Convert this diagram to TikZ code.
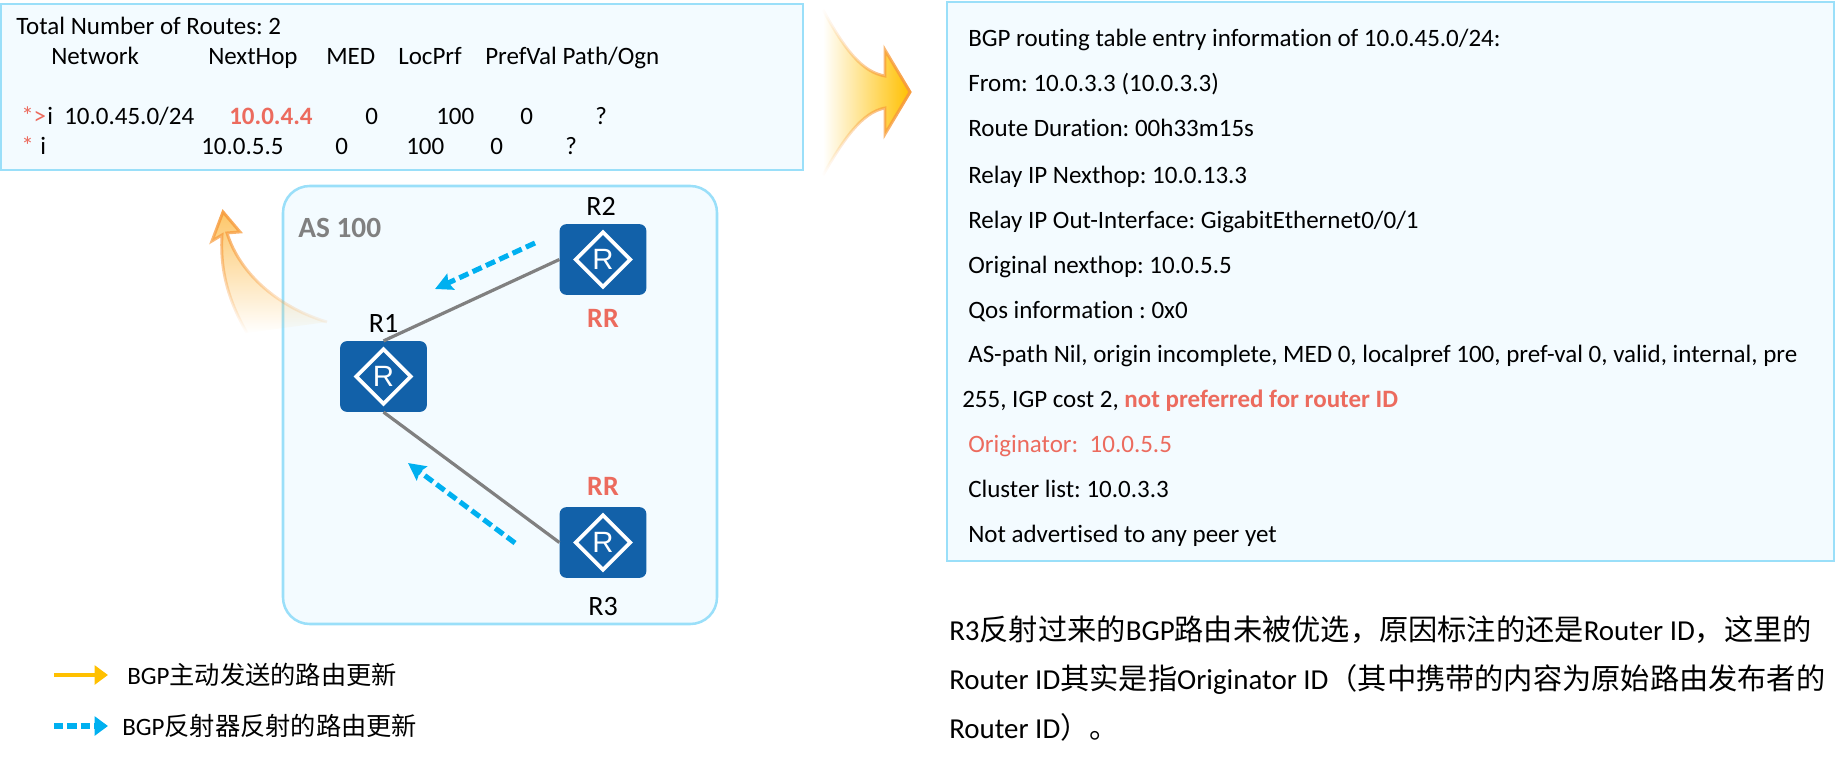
\documentclass[tikz,border=0pt]{standalone}
\usepackage{fontspec}
\setmainfont[Ligatures=NoCommon]{Carlito}
\newfontfamily\cjk[Scale=1.01]{Noto Sans CJK SC}
\newfontfamily\arialfont{Liberation Sans}
\frenchspacing
\usetikzlibrary{arrows.meta,shapes.geometric,fadings}
\definecolor{boxfill}{HTML}{F3FBFF}
\definecolor{boxline}{HTML}{9ADFF9}
\definecolor{routerblue}{HTML}{1261A9}
\definecolor{hired}{HTML}{EC6B5E}
\definecolor{linkgray}{HTML}{808080}
\definecolor{refblue}{HTML}{00B0F0}
\definecolor{sendyellow}{HTML}{FFC000}
\definecolor{arroworange}{HTML}{F79A3A}
\tikzfading[name=fadebig, left color=transparent!100, middle color=transparent!68, right color=transparent!0]
\tikzfading[name=fadecurve, top color=transparent!10, middle color=transparent!78, bottom color=transparent!100]
\begin{document}
\begin{tikzpicture}[x=0.75pt,y=-0.75pt]
		\tikzstyle{panel}=[draw=boxline,fill=boxfill,line width=2.2pt]
		\tikzstyle{txt}=[anchor=base west,inner sep=0pt,font=\fontsize{18.75}{22}\selectfont]
		\tikzstyle{redtxt}=[txt,text=hired]
		\tikzstyle{para}=[anchor=base west,inner sep=0pt,font=\fontsize{21.7}{25}\selectfont]
		\tikzstyle{router}=[fill=routerblue,rounded corners=5pt,minimum width=65pt,minimum height=53pt,inner sep=0pt]
		\tikzstyle{rmark}=[draw=white,line width=2.8pt,shape=diamond,aspect=1,minimum size=42pt,inner sep=0pt,text=white,font=\arialfont\fontsize{22}{22}\selectfont]
		\tikzstyle{rname}=[inner sep=0pt,font=\fontsize{21}{24}\selectfont]
		\tikzstyle{rr}=[inner sep=0pt,text=hired,font=\bfseries\fontsize{21}{24}\selectfont]
		\tikzstyle{link}=[draw=linkgray,line width=2.4pt]
		\tikzstyle{reflect}=[draw=refblue,line width=3.8pt,dash pattern=on 7.5pt off 3.5pt,-{Stealth[length=13pt,width=13pt,inset=2pt]}]
		\tikzstyle{send}=[draw=sendyellow,line width=3.4pt,-{Triangle[length=10pt,width=14pt]}]

		\useasboundingbox (0,0) rectangle (1844,763);

		\draw[panel] (1,4) rectangle (803,170);
		\draw[panel] (947,2) rectangle (1834,561);
		\draw[panel,line width=1.9pt,rounded corners=20pt] (283,186) rectangle (717,624);

		% big arrow between the two tables
		\fill[sendyellow,path fading=fadebig] (823,10) .. controls (845,50) and (862,72) .. (885,76) -- (885,50) -- (910,92) -- (885,134) -- (885,108) .. controls (862,112) and (843,140) .. (823,175) -- cycle;
		\draw[arroworange,line width=2.2pt,path fading=fadebig] (823,10) .. controls (845,50) and (862,72) .. (885,76) -- (885,50) -- (910,92) -- (885,134) -- (885,108) .. controls (862,112) and (843,140) .. (823,175);

		% curved arrow up to the left table
		\fill[sendyellow!45!arroworange!75!white,path fading=fadecurve] (223,212) -- (240,232) -- (227,233) .. controls (240,275) and (280,308) .. (327,322) -- (247,333) .. controls (228,300) and (220,270) .. (222,235) -- (212,241) -- cycle;
		\draw[arroworange,line width=2.2pt,path fading=fadecurve,line join=miter] (327,322) .. controls (280,308) and (240,275) .. (227,233) -- (240,232) -- (223,212) -- (212,241) -- (222,235) .. controls (220,270) and (228,300) .. (247,333);

		\foreach \i/\x/\y in {1/383.5/376.5,2/603/259.5,3/603/542.5}
		{
		  \node[router](r\i) at (\x,\y){};
		  \node[rmark](m\i) at (r\i){R};
		}

		\draw[link] (r1.north) -- (r2.west);
		\draw[link] (r1.south) -- (r3.west);

		\node[rname, above of=r1, node distance=40pt](n1){R1};
		\node[rname, above of=r2, node distance=40pt, xshift=-1.5pt](n2){R2};
		\node[rname, below of=r3, node distance=48pt](n3){R3};
		\node[rr, below of=r2, node distance=44pt](rr2){RR};
		\node[rr, above of=r3, node distance=42pt](rr3){RR};
		\node[anchor=west,inner sep=0pt,text=linkgray,font=\bfseries\fontsize{22}{24}\selectfont](as) at (298,228){AS 100};

		\coordinate (f2) at (535,243);
		\coordinate (t2) at (435,289);
		\coordinate (f3) at (515,543);
		\coordinate (t3) at (408,463);
		\draw[reflect] (f2) -- (t2);
		\draw[reflect] (f3) -- (t3);

		% left table
		\node[txt](total) at (16,35){Total Number of Routes: 2};
		\node[txt](h1) at (51,65){Network};
		\node[txt](h2) at (208,65){NextHop};
		\node[txt](h3) at (326,65){MED};
		\node[txt](h4) at (398,65){LocPrf};
		\node[txt](h5) at (485,65){PrefVal Path/Ogn};
		\node[redtxt](a0) at (21,125){*>};
		\node[txt](a1) at (47,125){i};
		\node[txt](a2) at (64,125){10.0.45.0/24};
		\node[redtxt,font=\bfseries\fontsize{18.75}{22}\selectfont](a3) at (229,125){10.0.4.4};
		\node[txt](a4) at (365,125){0};
		\node[txt](a5) at (436,125){100};
		\node[txt](a6) at (520,125){0};
		\node[txt](a7) at (595,125){?};
		\node[redtxt](b0) at (21,155){*};
		\node[txt](b1) at (40,155){i};
		\node[txt](b2) at (201,155){10.0.5.5};
		\node[txt](b3) at (335,155){0};
		\node[txt](b4) at (406,155){100};
		\node[txt](b5) at (490,155){0};
		\node[txt](b6) at (565,155){?};

		% right table
		\foreach \i/\y/\t in {
		  1/47/{BGP routing table entry information of 10.0.45.0/24:},
		  2/92/{From: 10.0.3.3 (10.0.3.3)},
		  3/137/{Route Duration: 00h33m15s},
		  4/183/{Relay IP Nexthop: 10.0.13.3},
		  5/228/{Relay IP Out-Interface: GigabitEthernet0/0/1},
		  6/273/{Original nexthop: 10.0.5.5},
		  7/318/{Qos information : 0x0},
		  8/362/{AS-path Nil, origin incomplete, MED 0, localpref 100, pref-val 0, valid, internal, pre},
		  11/497/{Cluster list: 10.0.3.3},
		  12/542/{Not advertised to any peer yet}}
		{
		  \node[txt](l\i) at (968,\y){\t};
		}
		\node[txt](l9) at (962,407){255, IGP cost 2, \textcolor{hired}{\bfseries not preferred for router ID}};
		\node[redtxt](l10) at (968,452){Originator:\ \ 10.0.5.5};

		% explanation below the table
		\node[para](p1) at (949,640){R3{\cjk 反射过来的}BGP{\cjk 路由未被优选，原因标注的还是}Router ID{\cjk ，这里的}};
		\node[para](p2) at (949,689){Router ID{\cjk 其实是指}Originator ID{\cjk （其中携带的内容为原始路由发布者的}};
		\node[para](p3) at (949,738){Router ID{\cjk ）。}};

		% legend
		\coordinate (k1a) at (54,675);
		\coordinate (k1b) at (108,675);
		\coordinate (k2a) at (54,726);
		\coordinate (k2b) at (108,726);
		\draw[send] (k1a) -- (k1b);
		\draw[reflect,dash pattern=on 7pt off 3pt,-{Triangle[length=10pt,width=14pt]}] (k2a) -- (k2b);
		\node[txt](k1) at (127,684){BGP{\cjk 主动发送的路由更新}};
		\node[txt](k2) at (122,735){BGP{\cjk 反射器反射的路由更新}};
\end{tikzpicture}
\end{document}
